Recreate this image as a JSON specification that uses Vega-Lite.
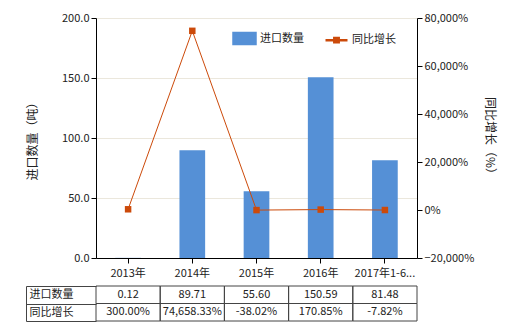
{
  "$schema": "https://vega.github.io/schema/vega-lite/v6.json",
  "padding": {"left": 25, "top": 12, "right": 5, "bottom": 5},
  "config": {
    "font": "Noto Sans CJK SC",
    "view": {"stroke": null},
    "axis": {"labelFontSize": 11, "labelColor": "#222", "titleFontSize": 12, "titleFontWeight": "normal", "titleColor": "#222", "labelFont": "Noto Sans CJK SC", "titleFont": "Noto Sans CJK SC"},
    "legend": {"labelFontSize": 11, "labelColor": "#222", "labelFont": "Noto Sans CJK SC"}
  },
  "datasets": {
    "main": [
      {"year": "2013年", "qty": 0.12, "growth": 300.00},
      {"year": "2014年", "qty": 89.71, "growth": 74658.33},
      {"year": "2015年", "qty": 55.60, "growth": -38.02},
      {"year": "2016年", "qty": 150.59, "growth": 170.85},
      {"year": "2017年1-6月", "qty": 81.48, "growth": -7.82}
    ],
    "table": [
      {"year": "2013年", "row": "进口数量", "text": "0.12"},
      {"year": "2014年", "row": "进口数量", "text": "89.71"},
      {"year": "2015年", "row": "进口数量", "text": "55.60"},
      {"year": "2016年", "row": "进口数量", "text": "150.59"},
      {"year": "2017年1-6月", "row": "进口数量", "text": "81.48"},
      {"year": "2013年", "row": "同比增长", "text": "300.00%"},
      {"year": "2014年", "row": "同比增长", "text": "74,658.33%"},
      {"year": "2015年", "row": "同比增长", "text": "-38.02%"},
      {"year": "2016年", "row": "同比增长", "text": "170.85%"},
      {"year": "2017年1-6月", "row": "同比增长", "text": "-7.82%"}
    ]
  },
  "vconcat": [
    {
      "width": 321,
      "height": 240,
      "data": {"name": "main"},
      "encoding": {
        "x": {
          "field": "year", "type": "nominal", "sort": null,
          "scale": {"paddingInner": 0.6, "paddingOuter": 0.3},
          "axis": {"title": null, "labelAngle": 0, "domainColor": "#000", "tickColor": "#000", "tickSize": 5, "labelPadding": 4,
                   "labelExpr": "length(datum.label) > 8 ? substring(datum.label, 0, 8) + '...' : datum.label"}
        }
      },
      "layer": [
        {
          "mark": {"type": "bar", "minBandSize": 1},
          "encoding": {
            "y": {
              "field": "qty", "type": "quantitative",
              "scale": {"domain": [0, 200]},
              "axis": {"title": "进口数量（吨）", "values": [0, 50, 100, 150, 200], "format": ".1f", "domainColor": "#000", "tickColor": "#000", "tickSize": 5, "gridColor": "#ebe7dc", "titlePadding": 22}
            },
            "color": {
              "datum": "进口数量",
              "scale": {"domain": ["进口数量", "同比增长"], "range": ["#5590d6", "#cc4a0a"]},
              "legend": {
                "title": null, "orient": "none", "legendX": 137, "legendY": 9, "direction": "horizontal",
                "symbolSize": 400, "columnPadding": 16, "labelOffset": 4,
                "encode": {
                  "symbols": {
                    "update": {
                      "shape": {"signal": "datum.value === '同比增长' ? 'M-1.1,0L1.1,0M-0.22,-0.22L0.22,-0.22L0.22,0.22L-0.22,0.22Z' : 'M-1.1,-0.55L1.1,-0.55L1.1,0.55L-1.1,0.55Z'"},
                      "stroke": {"signal": "datum.value === '同比增长' ? '#cc4a0a' : 'transparent'"},
                      "strokeWidth": {"value": 2.5}
                    }
                  }
                }
              }
            }
          }
        },
        {
          "layer": [
            {
              "mark": {"type": "line", "strokeWidth": 1},
              "encoding": {
                "y": {
                  "field": "growth", "type": "quantitative",
                  "scale": {"domain": [-20000, 80000]},
                  "axis": {"orient": "right", "title": "同比增长（%）", "values": [-20000, 0, 20000, 40000, 60000, 80000],
                           "labelExpr": "format(datum.value, ',') + '%'", "grid": false, "domainColor": "#000", "tickColor": "#000", "tickSize": 5, "titlePadding": 9}
                },
                "color": {"datum": "同比增长"}
              }
            },
            {
              "mark": {"type": "point", "shape": "square", "filled": true, "size": 42, "color": "#cc4a0a", "opacity": 1},
              "encoding": {
                "y": {"field": "growth", "type": "quantitative"}
              }
            }
          ]
        }
      ],
      "resolve": {"scale": {"y": "independent"}}
    },
    {
      "width": 321,
      "height": 35,
      "data": {"name": "table"},
      "encoding": {
        "x": {"field": "year", "type": "nominal", "sort": null, "scale": {"paddingInner": 0, "paddingOuter": 0}, "axis": null},
        "y": {
          "field": "row", "type": "nominal", "sort": ["进口数量", "同比增长"],
          "scale": {"paddingInner": 0, "paddingOuter": 0},
          "axis": {"title": null, "offset": 70, "domain": true, "domainColor": "#444", "ticks": true, "tickBand": "extent", "tickSize": -70, "tickColor": "#444", "labelAlign": "left", "labelPadding": 67, "grid": false}
        }
      },
      "layer": [
        {"mark": {"type": "rect", "filled": false, "color": "#444", "strokeWidth": 1}},
        {"mark": {"type": "text", "fontSize": 11, "color": "#222"}, "encoding": {"text": {"field": "text"}}}
      ]
    }
  ],
  "spacing": 2
}
